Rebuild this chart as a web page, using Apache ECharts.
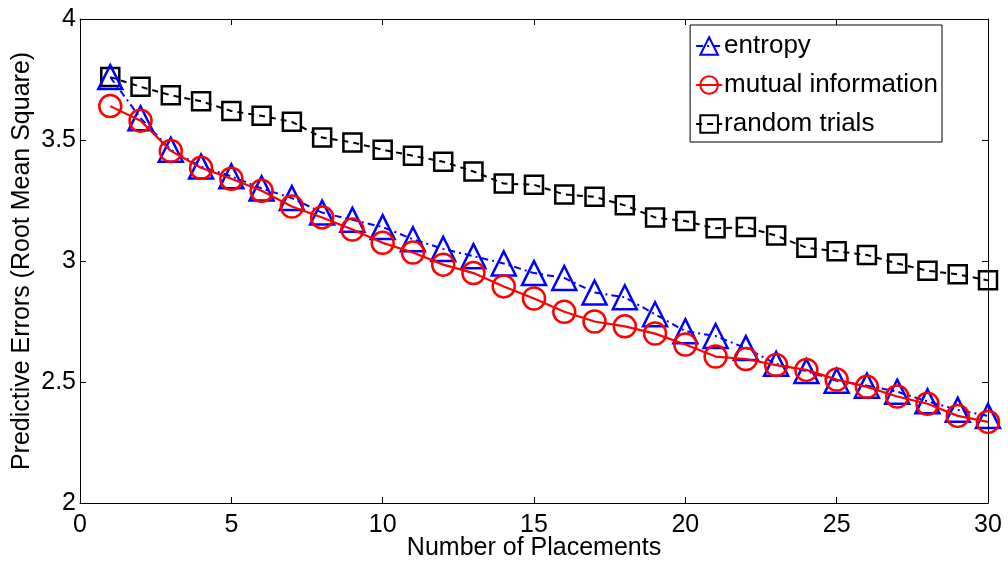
<!DOCTYPE html>
<html>
<head>
<meta charset="utf-8">
<script src="https://cdn.jsdelivr.net/npm/echarts@6/dist/echarts.min.js"></script>
<style>
  html, body { margin: 0; padding: 0; background: #fff; }
  #chart { width: 1008px; height: 564px; }
</style>
</head>
<body>
<div id="chart"></div>
<script>
// Number of sensor placements (x values)
const placements = Array.from({ length: 30 }, (_, i) => i + 1);

// RMS predictive error per placement count
const entropy = [3.76, 3.59, 3.46, 3.39, 3.35, 3.30, 3.26, 3.20, 3.17, 3.14,
                 3.09, 3.05, 3.02, 2.99, 2.95, 2.93, 2.87, 2.85, 2.78, 2.71,
                 2.69, 2.64, 2.575, 2.545, 2.505, 2.485, 2.46, 2.42, 2.385, 2.36];
const mutualInfo = [3.64, 3.58, 3.455, 3.385, 3.34, 3.29, 3.225, 3.18, 3.13, 3.075,
                    3.035, 2.985, 2.95, 2.895, 2.845, 2.79, 2.75, 2.73, 2.70, 2.655,
                    2.605, 2.595, 2.57, 2.55, 2.51, 2.48, 2.44, 2.41, 2.36, 2.335];
const randomTrials = [3.76, 3.72, 3.685, 3.66, 3.62, 3.60, 3.575, 3.51, 3.49, 3.46,
                      3.435, 3.41, 3.37, 3.32, 3.315, 3.275, 3.265, 3.23, 3.18, 3.165,
                      3.135, 3.14, 3.105, 3.055, 3.04, 3.025, 2.99, 2.96, 2.945, 2.92];

const seriesNames = ['entropy', 'mutual information', 'random trials'];

const pair = ys => ys.map((y, i) => [placements[i], y]);

const font = 'Liberation Sans, Arial, sans-serif';

const chart = echarts.init(document.getElementById('chart'), null, { renderer: 'canvas' });

const frameAxis = {
  axisLine: { show: true, onZero: false, lineStyle: { color: '#000', width: 1 } },
  axisTick: { show: true, inside: true, length: 6, lineStyle: { color: '#000' } },
  splitLine: { show: false }
};

chart.setOption({
  backgroundColor: '#fff',
  animation: false,
  grid: { left: 80, right: 20, top: 19, bottom: 61, containLabel: false, outerBoundsMode: 'none' },
  xAxis: [
    Object.assign({
      type: 'value', min: 0, max: 30, interval: 5, position: 'bottom',
      name: 'Number of Placements', nameLocation: 'middle', nameGap: 33, nameMoveOverlap: false,
      nameTextStyle: { fontFamily: font, fontSize: 25, color: '#000' },
      axisLabel: { fontFamily: font, fontSize: 25, color: '#000', margin: 10 }
    }, frameAxis),
    Object.assign({
      type: 'value', min: 0, max: 30, interval: 5, position: 'top',
      axisLabel: { show: false }
    }, frameAxis)
  ],
  yAxis: [
    Object.assign({
      type: 'value', min: 2, max: 4, interval: 0.5, position: 'left',
      name: 'Predictive Errors (Root Mean Square)', nameLocation: 'middle', nameGap: 45, nameMoveOverlap: false,
      nameTextStyle: { fontFamily: font, fontSize: 25, color: '#000' },
      axisLabel: { fontFamily: font, fontSize: 25, color: '#000', margin: 4 }
    }, frameAxis),
    Object.assign({
      type: 'value', min: 2, max: 4, interval: 0.5, position: 'right',
      axisLabel: { show: false }
    }, frameAxis)
  ],
  legend: {
    orient: 'vertical',
    right: 66, top: 25,
    data: seriesNames,
    backgroundColor: '#fff',
    borderColor: '#000', borderWidth: 1, borderRadius: 0,
    padding: [8, 4, 5, 5],
    itemWidth: 26, itemHeight: 22, itemGap: 13,
    textStyle: { fontFamily: font, fontSize: 26, lineHeight: 22, color: '#000', padding: [0, 0, 0, -3] }
  },
  series: [
    {
      name: seriesNames[0], type: 'line', data: pair(entropy), z: 3,
      symbol: 'triangle', symbolSize: 24, showAllSymbol: true,
      lineStyle: { color: '#0000ff', width: 2, type: [7, 4, 2, 4] },
      itemStyle: { color: 'rgba(0,0,0,0)', borderColor: '#0000ff', borderWidth: 2.5 }
    },
    {
      name: seriesNames[1], type: 'line', data: pair(mutualInfo), z: 4,
      symbol: 'circle', symbolSize: 22, showAllSymbol: true,
      lineStyle: { color: '#ff0000', width: 2.2, type: 'solid' },
      itemStyle: { color: 'rgba(0,0,0,0)', borderColor: '#ff0000', borderWidth: 2.5 }
    },
    {
      name: seriesNames[2], type: 'line', data: pair(randomTrials), z: 2,
      symbol: 'rect', symbolSize: 18, showAllSymbol: true,
      lineStyle: { color: '#000', width: 2, type: [6, 5] },
      itemStyle: { color: 'rgba(0,0,0,0)', borderColor: '#000', borderWidth: 2.5 }
    }
  ]
});
</script>
</body>
</html>
